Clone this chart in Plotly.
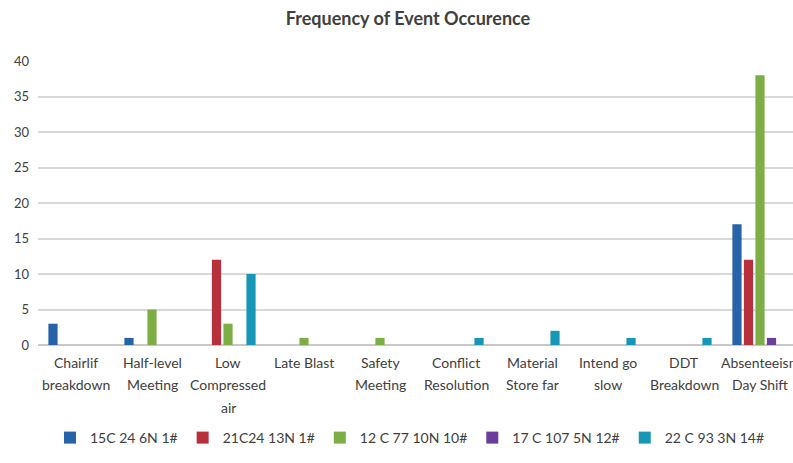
import plotly.graph_objects as go

# Event categories along the x axis; "|" marks a line break in the label
categories = [
    "Chairlif|breakdown",
    "Half-level|Meeting",
    "Low|Compressed|air",
    "Late Blast",
    "Safety|Meeting",
    "Conflict|Resolution",
    "Material|Store far",
    "Intend go|slow",
    "DDT|Breakdown",
    "Absenteeism|Day Shift",
]

series_names = [
    "15C 24 6N 1#",
    "21C24 13N 1#",
    "12 C 77 10N 10#",
    "17 C 107 5N 12#",
    "22 C 93 3N 14#",
]

s1_values = [3, 1, 0, 0, 0, 0, 0, 0, 0, 17]
s2_values = [0, 0, 12, 0, 0, 0, 0, 0, 0, 12]
s3_values = [0, 5, 3, 1, 1, 0, 0, 0, 0, 38]
s4_values = [0, 0, 0, 0, 0, 0, 0, 0, 0, 1]
s5_values = [0, 0, 10, 0, 0, 1, 2, 1, 1, 0]

y_ticks = [0, 5, 10, 15, 20, 25, 30, 35, 40]

series_values = [s1_values, s2_values, s3_values, s4_values, s5_values]
colors = ["#2763A8", "#B7303B", "#7DAE45", "#6A3F9C", "#1797B5"]

FONT = "Lato, Open Sans, sans-serif"
TEXT = "#404040"

W, H = 793, 463
left, top, bottom = 38, 61, 118
cat_px = 76  # pixel width of one category slot

fig = go.Figure()
for name, vals, col in zip(series_names, series_values, colors):
    fig.add_trace(go.Bar(
        x=categories, y=vals, name=name,
        marker=dict(color=col, line=dict(width=0)),
    ))

# Category labels: each line placed under its group with Excel-like spacing
for cat in categories:
    for i, line in enumerate(cat.split("|")):
        fig.add_annotation(
            x=cat, xref="x", y=0, yref="paper",
            text=line, showarrow=False,
            xanchor="center", yanchor="middle",
            yshift=-(17 + i * 22.5),
            font=dict(family=FONT, size=14, color=TEXT),
        )

x_end = -0.5 + (W - left) / cat_px

fig.update_layout(
    width=W, height=H,
    margin=dict(l=left, r=0, t=top, b=bottom, autoexpand=False),
    paper_bgcolor="white", plot_bgcolor="white",
    barmode="group", bargap=0.243, bargroupgap=0.2,
    font=dict(family=FONT, size=14, color=TEXT),
    title=dict(
        text="<b>Frequency of Event Occurence</b>",
        font=dict(family=FONT, size=18, color=TEXT),
        x=408 / W, xref="container", xanchor="center",
        y=1 - 19 / H, yref="container", yanchor="middle",
    ),
    xaxis=dict(
        range=[-0.5, x_end], showgrid=False, showline=False,
        ticks="", showticklabels=False, automargin=False,
    ),
    yaxis=dict(
        range=[0, 40], tickvals=y_ticks, showgrid=True,
        gridcolor="#D9D9D9", gridwidth=1.5,
        zeroline=True, zerolinecolor="#C8C8C8", zerolinewidth=1.5,
        showline=False, ticks="", ticklabelstandoff=8,
        tickfont=dict(size=13, color=TEXT), automargin=False,
    ),
    legend=dict(
        orientation="h", x=410 / W, xref="container", xanchor="center",
        y=(345 - 438) / 284, yanchor="middle",
        font=dict(size=14, color=TEXT),
    ),
    showlegend=True,
)

fig.write_html("out.html")
